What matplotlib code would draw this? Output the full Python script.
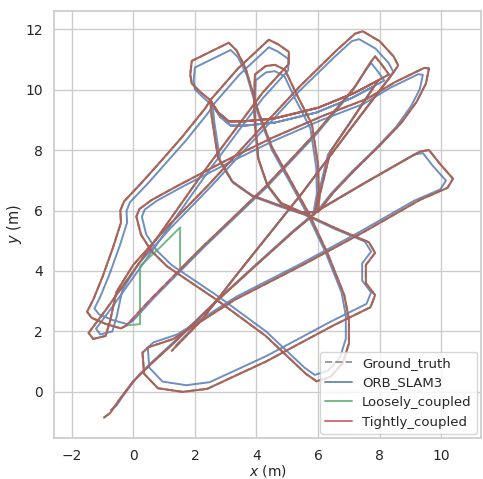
import matplotlib
matplotlib.use("Agg")
import matplotlib.pyplot as plt
import seaborn as sns

sns.set_theme(style="whitegrid")
plt.rcParams["font.family"] = ["DejaVu Sans"]

gt_path = [
    (-0.95, -0.85), (-0.75, -0.7), (-0.55, -0.4), (-0.3, -0.05), (0.0, 0.35), (0.5, 0.85),
    (1.3, 1.6), (2.6, 2.9), (4.0, 4.2), (5.2, 5.3), (5.9, 5.9),
    (6.02, 6.6), (6.0, 7.5), (5.8, 8.85), (5.25, 9.95), (4.93, 10.65), (4.6, 10.82), (4.3, 10.78),
    (3.95, 10.5), (3.92, 9.6), (3.95, 8.85), (4.05, 7.75), (4.35, 6.85), (4.8, 6.25), (5.45, 5.95),
    (6.0, 5.95),
    (6.5, 6.6), (7.2, 7.35), (8.0, 8.15), (8.7, 8.9), (9.2, 9.6), (9.5, 10.2), (9.6, 10.7), (9.45, 10.72),
    (8.5, 10.25), (7.6, 9.7), (6.2, 9.15), (4.5, 8.4), (3.0, 7.65), (1.5, 6.85), (0.6, 6.35),
    (0.2, 6.05), (0.1, 5.8),
    (0.25, 5.2), (0.6, 4.65), (1.1, 4.15), (2.7, 3.05), (4.3, 1.85), (5.6, 0.6), (5.95, 0.35),
    (6.4, 0.5), (6.8, 0.95), (7.0, 1.6), (7.0, 2.4), (6.85, 3.2), (6.3, 4.6), (5.7, 5.9), (5.1, 7.0),
    (4.5, 8.1), (4.05, 9.3), (3.65, 10.7), (3.35, 11.3), (3.1, 11.55),
    (2.4, 11.2), (1.9, 10.95), (1.85, 10.5), (1.9, 10.2), (2.2, 9.9), (2.5, 9.65),
    (2.75, 9.25), (3.1, 8.95), (3.6, 8.95), (4.6, 9.05), (6.0, 9.4), (7.2, 9.9), (8.3, 10.5),
    (8.05, 10.85), (7.85, 11.1), (7.7, 10.9),
    (7.2, 10.1), (6.0, 8.65), (4.3, 6.8), (2.2, 4.75), (0.5, 3.0), (-0.22, 2.2),
    (-0.4, 2.1), (-0.9, 2.25), (-1.35, 2.45), (-1.5, 2.65), (-1.3, 3.05), (-1.0, 3.8), (-0.65, 4.8),
    (-0.4, 5.6), (-0.42, 6.0), (-0.3, 6.3), (0.3, 6.95), (1.0, 7.75), (1.6, 8.45), (2.35, 9.4),
    (2.5, 9.65),
    (2.55, 9.07), (2.75, 7.75), (3.2, 6.97), (3.85, 6.5), (4.8, 6.15), (5.6, 5.87), (6.6, 5.4),
    (7.65, 4.95),
    (7.85, 4.6), (7.55, 4.2), (7.55, 3.6), (7.85, 3.2), (7.7, 2.8),
    (6.5, 2.2), (4.3, 1.0), (2.4, 0.1), (1.6, 0.0), (0.8, 0.12), (0.35, 0.6), (0.3, 1.3), (0.5, 1.48),
    (1.3, 1.75), (3.3, 3.05), (5.5, 4.2), (7.5, 5.3), (9.3, 6.35), (10.2, 6.75), (10.38, 7.05),
    (9.95, 7.55), (9.6, 8.0), (9.3, 7.95), (7.5, 6.9), (6.0, 6.0),
    (6.05, 6.5), (6.4, 7.95), (7.1, 9.0), (7.95, 10.3),
    (7.2, 9.9), (6.0, 9.4), (4.6, 9.05), (3.6, 8.95), (3.1, 8.95), (2.75, 9.25), (2.5, 9.65),
    (3.4, 10.7), (4.4, 11.65), (4.7, 11.5), (5.05, 11.25), (5.05, 10.85),
    (4.2, 9.9), (2.3, 7.3), (0.5, 4.7), (-0.9, 2.7), (-1.45, 1.95), (-1.3, 1.75), (-0.9, 1.85),
    (-0.75, 2.35), (-0.55, 3.3), (0.0, 4.2), (1.1, 5.45), (2.4, 6.8), (3.8, 8.35), (5.4, 10.1),
    (6.6, 11.3), (7.2, 11.85), (7.45, 11.93), (8.0, 11.6), (8.45, 11.1), (8.6, 10.8), (8.4, 10.5),
    (7.2, 8.9), (5.5, 6.6), (3.3, 3.8), (2.2, 2.35), (1.25, 1.36),
]

# ORB_SLAM3 estimate: same route, drawn slightly inside the ground truth
orb_path = [
    (-0.73, -0.6), (-0.54, -0.45), (-0.35, -0.16), (-0.11, 0.17), (0.18, 0.56), (0.66, 1.04),
    (1.43, 1.76), (2.68, 3.0), (4.02, 4.25), (5.17, 5.31), (5.84, 5.88),
    (5.96, 6.56), (5.94, 7.42), (5.75, 8.72), (5.22, 9.77), (4.91, 10.44), (4.6, 10.61), (4.31, 10.57),
    (3.97, 10.3), (3.94, 9.44), (3.97, 8.72), (4.07, 7.66), (4.36, 6.8), (4.79, 6.22), (5.41, 5.93),
    (5.94, 5.93),
    (6.42, 6.56), (7.09, 7.28), (7.86, 8.04), (8.53, 8.76), (9.01, 9.44), (9.3, 10.01), (9.4, 10.49), (9.25, 10.51),
    (8.34, 10.06), (7.48, 9.53), (6.13, 9.0), (4.5, 8.28), (3.06, 7.56), (1.62, 6.8), (0.76, 6.32),
    (0.37, 6.03), (0.28, 5.79),
    (0.42, 5.21), (0.76, 4.68), (1.24, 4.2), (2.77, 3.15), (4.31, 2.0), (5.56, 0.8), (5.89, 0.56),
    (6.32, 0.7), (6.71, 1.13), (6.9, 1.76), (6.9, 2.52), (6.76, 3.29), (6.23, 4.64), (5.65, 5.88), (5.08, 6.94),
    (4.5, 8.0), (4.07, 9.15), (3.68, 10.49), (3.4, 11.07), (3.16, 11.31),
    (2.48, 10.97), (2.0, 10.73), (1.96, 10.3), (2.0, 10.01), (2.29, 9.72), (2.58, 9.48),
    (2.82, 9.1), (3.16, 8.81), (3.64, 8.81), (4.6, 8.91), (5.94, 9.24), (7.09, 9.72), (8.15, 10.3),
    (7.91, 10.64), (7.72, 10.88), (7.57, 10.68),
    (7.09, 9.92), (5.94, 8.52), (4.31, 6.75), (2.29, 4.78), (0.66, 3.1), (-0.03, 2.33),
    (-0.2, 2.24), (-0.68, 2.38), (-1.12, 2.57), (-1.26, 2.76), (-1.07, 3.15), (-0.78, 3.87), (-0.44, 4.83),
    (-0.2, 5.6), (-0.22, 5.98), (-0.11, 6.27), (0.47, 6.89), (1.14, 7.66), (1.72, 8.33), (2.44, 9.24),
    (2.58, 9.48),
    (2.63, 8.93), (2.82, 7.66), (3.25, 6.91), (3.88, 6.46), (4.79, 6.12), (5.56, 5.86), (6.52, 5.4),
    (7.52, 4.97),
    (7.72, 4.64), (7.43, 4.25), (7.43, 3.68), (7.72, 3.29), (7.57, 2.91),
    (6.42, 2.33), (4.31, 1.18), (2.48, 0.32), (1.72, 0.22), (0.95, 0.34), (0.52, 0.8), (0.47, 1.47), (0.66, 1.64),
    (1.43, 1.9), (3.35, 3.15), (5.46, 4.25), (7.38, 5.31), (9.11, 6.32), (9.97, 6.7), (10.15, 6.99),
    (9.73, 7.47), (9.4, 7.9), (9.11, 7.85), (7.38, 6.84), (5.94, 5.98),
    (5.99, 6.46), (6.32, 7.85), (7.0, 8.86), (7.81, 10.11),
    (7.09, 9.72), (5.94, 9.24), (4.6, 8.91), (3.64, 8.81), (3.16, 8.81), (2.82, 9.1), (2.58, 9.48),
    (3.44, 10.49), (4.4, 11.4), (4.69, 11.26), (5.03, 11.02), (5.03, 10.64),
    (4.21, 9.72), (2.39, 7.23), (0.66, 4.73), (-0.68, 2.81), (-1.21, 2.09), (-1.07, 1.9), (-0.68, 2.0),
    (-0.54, 2.48), (-0.35, 3.39), (0.18, 4.25), (1.24, 5.45), (2.48, 6.75), (3.83, 8.24), (5.36, 9.92),
    (6.52, 11.07), (7.09, 11.6), (7.33, 11.67), (7.86, 11.36), (8.29, 10.88), (8.44, 10.59), (8.24, 10.3),
    (7.09, 8.76), (5.46, 6.56), (3.35, 3.87), (2.29, 2.48), (1.38, 1.53),
]

# loosely coupled follows the ground truth, except a jump near the lower-left band
loose_jump = [(1.52, 4.06), (1.52, 5.44), (0.87, 4.78), (0.22, 4.16), (0.22, 2.24)]
jump_at = gt_path.index((2.2, 4.75)) + 1
loose_path = gt_path[:jump_at] + loose_jump + gt_path[jump_at + 1:]

# tightly coupled lies on the ground truth at this scale
tight_path = list(gt_path)

fig = plt.figure(figsize=(4.83, 4.79), dpi=100)
ax = fig.add_axes([0.112, 0.086, 0.884, 0.891])

series = [
    ("Ground_truth", gt_path, dict(color="gray", ls="--")),
    ("ORB_SLAM3", orb_path, dict(color="#4C72B0")),
    ("Loosely_coupled", loose_path, dict(color="#55A868")),
    ("Tightly_coupled", tight_path, dict(color="#C44E52")),
]
for name, path, style in series:
    xs = [p[0] for p in path]
    ys = [p[1] for p in path]
    ax.plot(xs, ys, lw=1.4, alpha=0.8, label=name, **style)

ax.set_xlim(-2.57, 11.29)
ax.set_ylim(-1.52, 12.6)
ax.set_xticks(range(-2, 11, 2))
ax.set_yticks(range(0, 13, 2))
ax.tick_params(labelsize=10, pad=2)
ax.set_xlabel("$x$ (m)", fontsize=10, labelpad=0)
ax.set_ylabel("$y$ (m)", fontsize=10.5, labelpad=1)
ax.legend(loc="lower right", fontsize=9.5, framealpha=0.8, borderaxespad=0.3)

fig.savefig("out.png", dpi=100)
